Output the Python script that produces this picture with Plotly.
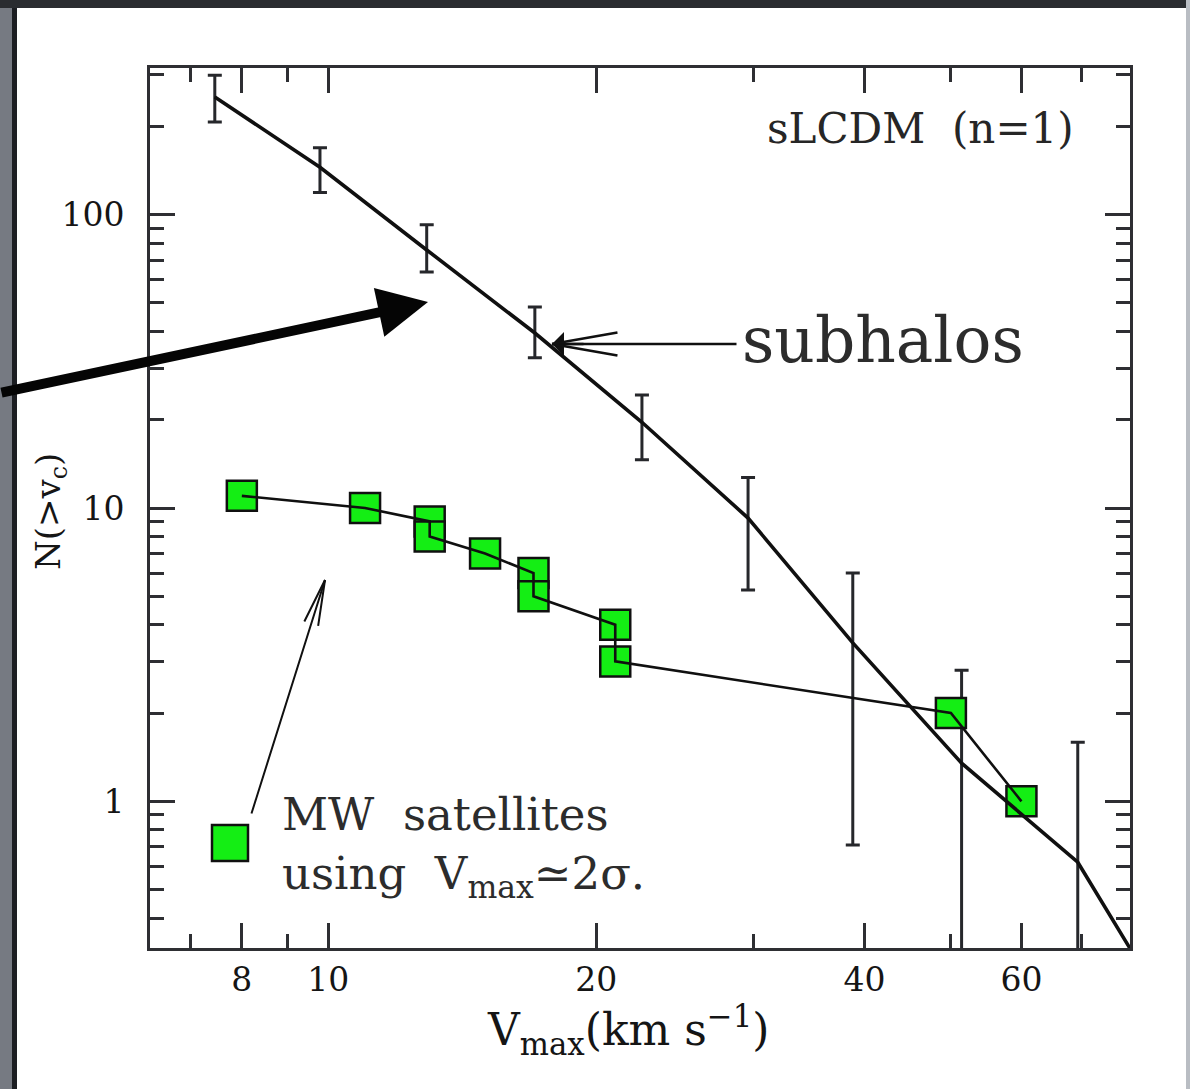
import math
import plotly.graph_objects as go

# Cumulative subhalo counts N(>v_c) for sLCDM (n=1), with error bars
sub_vmax = [7.46, 9.79, 12.9, 17.06, 22.5, 29.6, 38.8, 51.4, 69.4]
sub_n = [252, 145, 75.8, 39.5, 19.6, 9.24, 3.47, 1.35, 0.62]
sub_n_hi = [299, 169, 92.3, 48.4, 24.3, 12.7, 6.0, 2.8, 1.59]
sub_n_lo = [207, 119, 63.8, 32.5, 14.6, 5.25, 0.71, 0.1, 0.1]

# Smooth subhalo curve, continued to the lower-right corner
curve_vmax = sub_vmax + [79.4]
curve_n = sub_n + [0.316]

# Milky Way satellites (V_max ~ 2 sigma), cumulative count
mw_vmax = [8, 11, 13, 13, 15, 17, 17, 21, 21, 50, 60]
mw_n = [11, 10, 9, 8, 7, 6, 5, 4, 3, 2, 1]

# Axis ticks
x_ticks = [8, 10, 20, 40, 60]
x_minor = [7, 9, 30, 50, 70]
y_ticks = [1, 10, 100]
y_tick_text = ["1", "10", "100"]
y_minor = [0.4, 0.5, 0.6, 0.7, 0.8, 0.9, 2, 3, 4, 5, 6, 7, 8, 9,
           20, 30, 40, 50, 60, 70, 80, 90, 200, 300]

W, H = 1190, 1089
L, R, T, B = 150, 1130, 68, 948

SERIF = "DejaVu Serif"
INK = "#151515"
TXT = "#262626"
AXC = "#2e2f33"
GREEN = "#14ee14"


def px(x):
    return (x - L) / (R - L)


def py(y):
    return (B - y) / (B - T)


fig = go.Figure()

# subhalo error bars
fig.add_trace(go.Scatter(
    x=sub_vmax, y=sub_n, mode="markers",
    marker=dict(size=1, color=INK),
    error_y=dict(type="data", symmetric=False,
                 array=[h - n for h, n in zip(sub_n_hi, sub_n)],
                 arrayminus=[n - lo for n, lo in zip(sub_n, sub_n_lo)],
                 color="#26272b", thickness=3, width=7),
    showlegend=False, hoverinfo="skip"))

# MW satellites squares
fig.add_trace(go.Scatter(
    x=mw_vmax, y=mw_n, mode="markers",
    marker=dict(symbol="square", size=30, color=GREEN,
                line=dict(color="#101010", width=2.5)),
    showlegend=False))

# MW connecting line
fig.add_trace(go.Scatter(
    x=mw_vmax, y=mw_n, mode="lines",
    line=dict(color="#101010", width=2.6),
    showlegend=False, hoverinfo="skip"))

# subhalo curve
fig.add_trace(go.Scatter(
    x=curve_vmax, y=curve_n, mode="lines",
    line=dict(color="#101010", width=3.6),
    showlegend=False, hoverinfo="skip"))

axis_common = dict(
    type="log", showgrid=False, zeroline=False,
    showline=True, linecolor=AXC, linewidth=3, mirror="ticks",
    ticks="inside", ticklen=25, tickwidth=2.5, tickcolor=AXC,
    tickfont=dict(family=SERIF, size=33, color=INK),
)

fig.update_xaxes(
    range=[0.8, 1.9], tickvals=x_ticks, ticktext=[str(v) for v in x_ticks],
    minor=dict(tickvals=x_minor, ticks="inside", ticklen=14,
               tickwidth=2.5, tickcolor=AXC),
    ticklabelstandoff=0, **axis_common)
fig.update_yaxes(
    range=[-0.5, 2.5], tickvals=y_ticks, ticktext=y_tick_text,
    minor=dict(tickvals=y_minor, ticks="inside", ticklen=14,
               tickwidth=2.5, tickcolor=AXC),
    ticklabelstandoff=16, **axis_common)

# screen frame around the slide panel
shapes = [
    dict(type="rect", xref="paper", yref="paper", x0=px(0), x1=px(13),
         y0=py(H), y1=py(0), fillcolor="#767a82", line=dict(width=0)),
    dict(type="rect", xref="paper", yref="paper", x0=px(12), x1=px(17),
         y0=py(H), y1=py(0), fillcolor="#1c1e22", line=dict(width=0)),
    dict(type="rect", xref="paper", yref="paper", x0=px(0), x1=px(W),
         y0=py(8), y1=py(0), fillcolor="#2a2c30", line=dict(width=0)),
    dict(type="rect", xref="paper", yref="paper", x0=px(1186), x1=px(W),
         y0=py(H), y1=py(0), fillcolor="#b9bdc3", line=dict(width=0)),
    # key square for the MW satellites
    dict(type="rect", xref="paper", yref="paper", x0=px(212), x1=px(248),
         y0=py(861), y1=py(825), fillcolor=GREEN,
         line=dict(color="#101010", width=2.5)),
]


def label(x, y, text, size, xanchor="center", angle=0, color=TXT):
    return dict(xref="paper", yref="paper", x=px(x), y=py(y),
                xanchor=xanchor, yanchor="middle", text=text,
                showarrow=False, textangle=angle, align="left",
                font=dict(family=SERIF, size=size, color=color))


def arrow_line(x_tip, y_tip, x_tail, y_tail, width, head=0, size=1.0, color="#101010"):
    return dict(xref="paper", yref="paper", x=px(x_tip), y=py(y_tip),
                ax=x_tail - x_tip, ay=y_tail - y_tip, text="",
                showarrow=True, arrowhead=head, arrowsize=size,
                arrowwidth=width, arrowcolor=color)


def barbs(x_tip, y_tip, x_tail, y_tail, length, angle_deg, width):
    dx, dy = x_tail - x_tip, y_tail - y_tip
    n = math.hypot(dx, dy)
    ux, uy = dx / n, dy / n
    out = []
    for s in (1, -1):
        a = math.radians(angle_deg) * s
        bx = ux * math.cos(a) - uy * math.sin(a)
        by = ux * math.sin(a) + uy * math.cos(a)
        out.append(arrow_line(x_tip, y_tip, x_tip + bx * length,
                              y_tip + by * length, width))
    return out


annotations = [
    # axis titles
    label(628, 1030, "V<sub>max</sub>(km s<sup>−1</sup>)", 44, color=INK),
    label(50, 512, "N(>v<sub>c</sub>)", 34, angle=-90, color=INK),
    # model label
    label(1076, 128, "sLCDM  (n=1)", 42, xanchor="right"),
    # subhalo label
    label(740, 340, "subhalos", 63, xanchor="left", color="#2c2c2c"),
    # MW label (two lines)
    label(280, 846, "MW  satellites<br>using  V<sub>max</sub>≃2σ.", 45,
          xanchor="left", color="#2c2c2c"),
    # big pointer coming in from the left
    arrow_line(428, 302, 0, 393, 10, head=2, size=1.0, color="#050505"),
    # subhalos pointer
    arrow_line(552, 344, 738, 344, 2.5),
    arrow_line(552, 344, 585, 344, 2.5, head=1, size=1.6),
    # MW pointer
    arrow_line(325, 580, 251, 815, 2),
]
annotations += barbs(552, 344, 738, 344, 68, 10, 2.5)
annotations += barbs(325, 580, 251, 815, 48, 9, 2)

fig.update_layout(
    width=W, height=H, autosize=False,
    margin=dict(l=L, r=W - R, t=T, b=H - B, pad=0),
    paper_bgcolor="white", plot_bgcolor="white",
    shapes=shapes, annotations=annotations, showlegend=False,
)

fig.write_html("out.html")
